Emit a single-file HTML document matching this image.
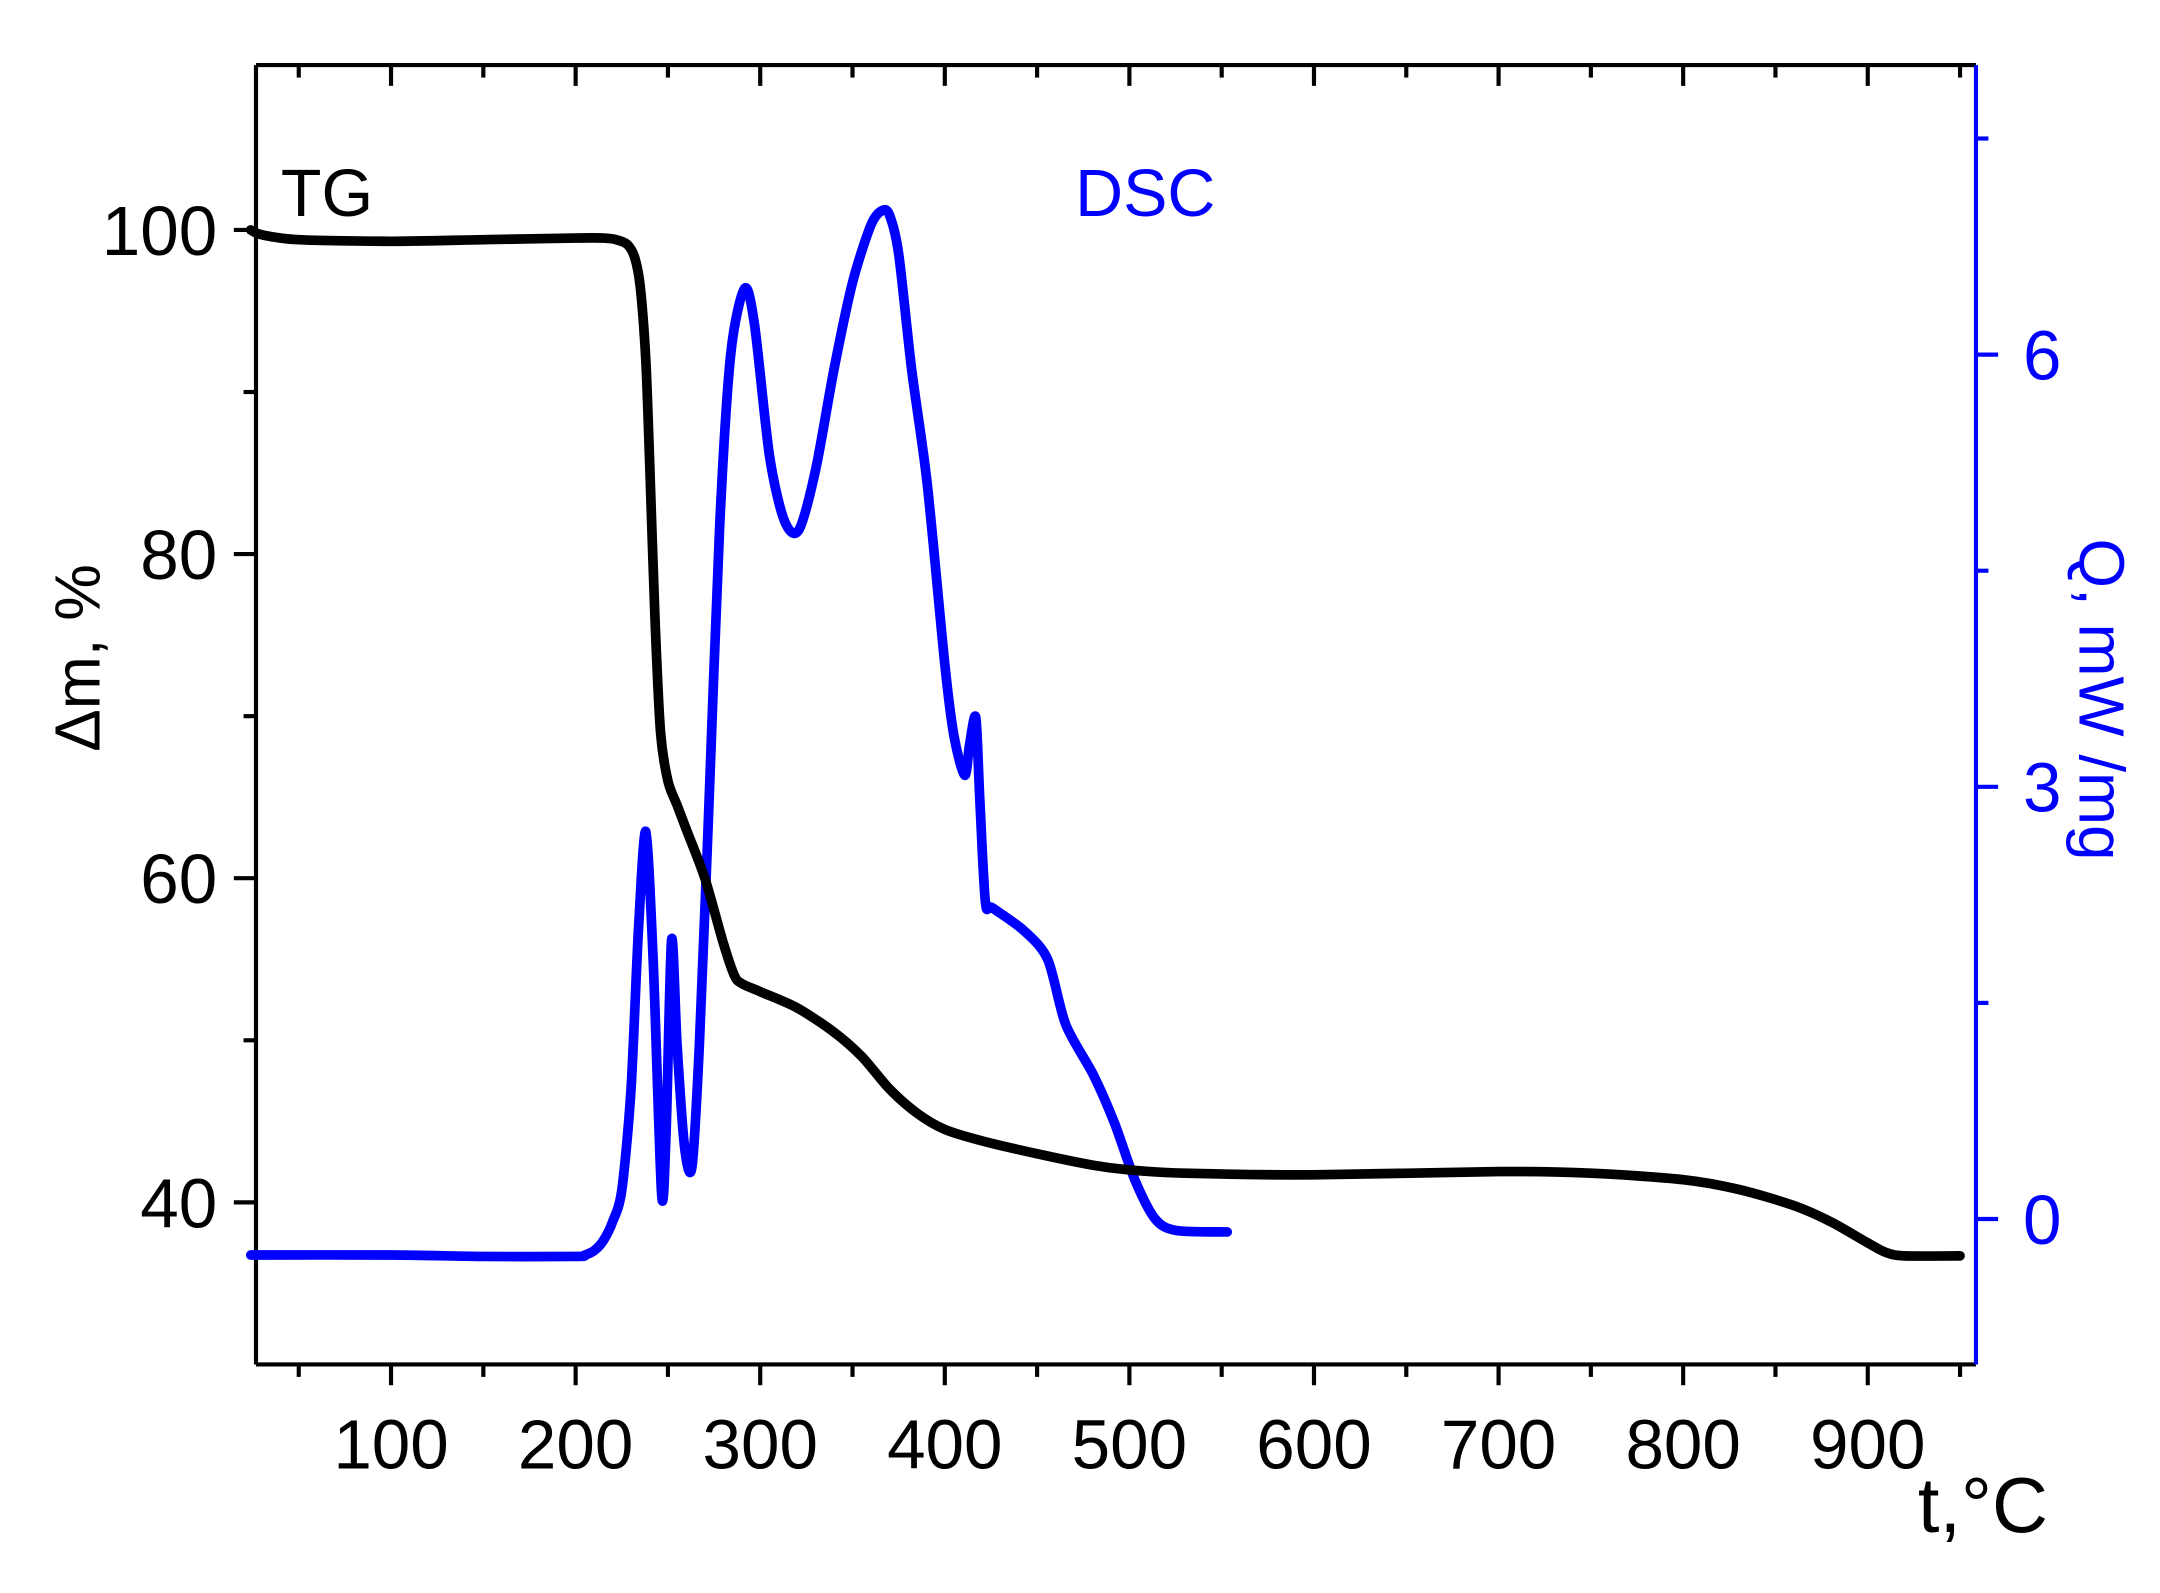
<!DOCTYPE html>
<html><head><meta charset="utf-8"><style>
html,body{margin:0;padding:0;background:#fff;}
svg{display:block;font-family:"Liberation Sans",Arial,sans-serif;}
</style></head><body>
<svg id="chart" width="2160" height="1593" viewBox="0 0 1561 1150" preserveAspectRatio="none" xmlns="http://www.w3.org/2000/svg">
<g id="axes"></g>
<g id="series"></g>
<text x="203" y="156" font-size="48" fill="#000">TG</text>
<text x="777" y="156" font-size="48" fill="#0000ff">DSC</text>
<text x="1480" y="1106" font-size="56" text-anchor="end" fill="#000">t,°C</text>
<text transform="translate(72,475) rotate(-90)" font-size="46" text-anchor="middle" fill="#000">Δm, %</text>
<text transform="translate(1503,505) rotate(90)" font-size="46" text-anchor="middle" fill="#0000ff">Q, mW /mg</text>
</svg>
<script>
const tgT=[24,30,50,100,150,200,215,222,228,232,235,238,240,243,246,250,255,260,270,280,286,290,300,320,340,355,370,385,400,420,450,480,500,530,600,700,750,800,830,860,880,900,910,920,950];
const tgM=[100,99.7,99.4,99.3,99.4,99.5,99.5,99.4,99.1,98.3,96.5,92,86,76,69,66,64.5,63,60,56,54,53.5,53,52,50.5,49,47,45.5,44.5,43.8,43,42.3,42,41.8,41.7,41.9,41.8,41.4,40.8,39.8,38.8,37.5,36.9,36.7,36.7];
const dscT=[24,100,150,200,205,210,215,220,225,230,234,238,242,246.6,249,252,255,259,263,267,272,278,284,291.6,297,305,313,320.8,330,340,350,360,366,370,375,382,390.5,400,405,410.8,413.5,416.8,419,422,425.8,443,455.8,465.5,480.5,491.8,503,514,525.5,553];
const dscQ=[-0.25,-0.25,-0.26,-0.26,-0.25,-0.22,-0.15,-0.02,0.2,0.9,2.0,2.69,1.8,0.17,0.6,1.94,1.2,0.5,0.36,1.2,2.8,4.8,6.0,6.46,6.2,5.3,4.85,4.78,5.2,5.9,6.5,6.9,7.0,6.97,6.7,5.9,5.1,3.85,3.35,3.08,3.3,3.48,2.9,2.2,2.16,2.0,1.8,1.35,1.0,0.67,0.27,0.0,-0.08,-0.09];
const xTicks=[100,200,300,400,500,600,700,800,900];
const xMinor=[50,150,250,350,450,550,650,750,850,950];
const yLeftTicks=[40,60,80,100];
const yLeftMinor=[50,70,90];
const yRightTicks=[0,3,6];
const yRightMinor=[1.5,4.5,7.5];

const L=185,R=1428,T=47,B=985;
const X=t=>149.2+t*1.334;
const YL=m=>868-(m-40)*11.7;
const YR=q=>880-q*104;
const NS="http://www.w3.org/2000/svg";
function mk(tag,attrs,parent){const e=document.createElementNS(NS,tag);for(const k in attrs)e.setAttribute(k,attrs[k]);parent.appendChild(e);return e;}
const ax=document.getElementById('axes'), sr=document.getElementById('series');

let e;
e=mk('line',{x1:L,y1:B,x2:R,y2:B,stroke:'#000','stroke-width':3},ax);


e=mk('line',{x1:L,y1:T,x2:R,y2:T,stroke:'#000','stroke-width':3},ax);


e=mk('line',{x1:L,y1:T,x2:L,y2:B,stroke:'#000','stroke-width':3},ax);


e=mk('line',{x1:R,y1:T,x2:R,y2:B,stroke:'#0000ff','stroke-width':3},ax);



xTicks.forEach(t=>{const x=X(t);
 e=mk('line',{x1:x,y1:B,x2:x,y2:B+15,stroke:'#000','stroke-width':3},ax);
 
 
 e=mk('line',{x1:x,y1:T,x2:x,y2:T+15,stroke:'#000','stroke-width':3},ax);
 
 
 e=mk('text',{x:x,y:1060,'font-size':50,'text-anchor':'middle',fill:'#000'},ax);e.textContent=t;
 
 
});
xMinor.forEach(t=>{const x=X(t);
 e=mk('line',{x1:x,y1:B,x2:x,y2:B+9,stroke:'#000','stroke-width':3},ax);
 
 
 e=mk('line',{x1:x,y1:T,x2:x,y2:T+9,stroke:'#000','stroke-width':3},ax);
 
 
});
yLeftTicks.forEach(m=>{const y=YL(m);
 e=mk('line',{x1:L-16,y1:y,x2:L,y2:y,stroke:'#000','stroke-width':3},ax);
 
 
 e=mk('text',{x:157,y:y+18,'font-size':50,'text-anchor':'end',fill:'#000'},ax);e.textContent=m;
 
 
});
yLeftMinor.forEach(m=>{const y=YL(m);
 e=mk('line',{x1:L-9,y1:y,x2:L,y2:y,stroke:'#000','stroke-width':3},ax);
 
 
});
yRightTicks.forEach(q=>{const y=YR(q);
 e=mk('line',{x1:R,y1:y,x2:R+16,y2:y,stroke:'#0000ff','stroke-width':3},ax);
 
 
 e=mk('text',{x:1462,y:y+18,'font-size':50,'text-anchor':'start',fill:'#0000ff'},ax);e.textContent=q;
 
 
});
yRightMinor.forEach(q=>{const y=YR(q);
 e=mk('line',{x1:R,y1:y,x2:R+9,y2:y,stroke:'#0000ff','stroke-width':3},ax);
 
 
});

function smooth(pts){let d='M'+pts[0][0]+','+pts[0][1];
 for(let i=0;i<pts.length-1;i++){const p0=pts[i-1]||pts[i],p1=pts[i],p2=pts[i+1],p3=pts[i+2]||p2;
  const c1=[p1[0]+(p2[0]-p0[0])/7,p1[1]+(p2[1]-p0[1])/7],c2=[p2[0]-(p3[0]-p1[0])/7,p2[1]-(p3[1]-p1[1])/7];
  d+=' C'+c1[0]+','+c1[1]+' '+c2[0]+','+c2[1]+' '+p2[0]+','+p2[1];}
 return d;}
e=mk('path',{d:smooth(dscT.map((t,i)=>[X(t),YR(dscQ[i])])),fill:'none',stroke:'#0000ff','stroke-width':7,'stroke-linejoin':'round','stroke-linecap':'round'},sr);


e=mk('path',{d:smooth(tgT.map((t,i)=>[X(t),YL(tgM[i])])),fill:'none',stroke:'#000','stroke-width':7,'stroke-linejoin':'round','stroke-linecap':'round'},sr);


</script>
</body></html>
